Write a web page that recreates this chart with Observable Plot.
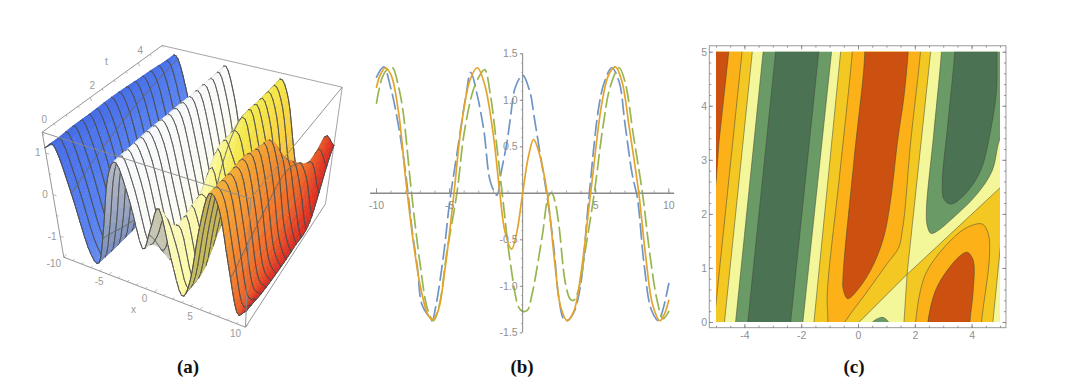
<!DOCTYPE html>
<html><head><meta charset="utf-8">
<style>
html,body{margin:0;padding:0;background:#fff;width:1071px;height:387px;overflow:hidden}
.panel{position:absolute}
.cap{position:absolute;top:355px;width:60px;margin-left:-30px;text-align:center;font:bold 19px "Liberation Serif",serif;color:#111;line-height:24px}
</style>
<script src="https://cdn.jsdelivr.net/npm/d3@7"></script>
<script src="https://cdn.jsdelivr.net/npm/@observablehq/plot@0.6"></script>
</head><body>
<div id="a" class="panel" style="left:0;top:0"></div>
<div id="b" class="panel" style="left:350px;top:30px"></div>
<div id="c" class="panel" style="left:690px;top:30px"></div>
<div class="cap" style="left:188px">(a)</div>
<div class="cap" style="left:522px">(b)</div>
<div class="cap" style="left:854px">(c)</div>
<script>
const labelFont = "'Liberation Sans',sans-serif";

// ---------- (a) surface values: z at x for each t
const surfX = [-10,-9,-8,-7,-6,-5,-4,-3,-2,-1,0,1,2,3,4,5,6,7,8,9,10];
const surfT = [0,1,2,3,4,5];
const zT0 = [1.13,1.23,.20,-1.02,-1.30,-.38,.88,1.33,.54,-.55,0,.55,-.54,-1.33,-.88,.38,1.30,1.02,-.20,-1.23,-1.13];
const zT1 = [.96,1.32,.46,-.82,-1.35,-.63,.66,1.35,.80,-.49,-1.28,-.72,0,-.97,-1.03,.12,1.20,1.17,.07,-1.09,-1.26];
const zT2 = [.76,1.35,.70,-.59,-1.34,-.86,.41,1.31,.99,-.23,-1.24,-1.11,.04,.88,0,-.12,1.01,1.28,.34,-.92,-1.33];
const zT3 = [.52,1.33,.92,-.34,-1.28,-1.05,.15,1.21,1.16,.04,-1.11,-1.24,-.23,.99,1.26,.32,0,1.02,.57,-.70,-1.35];
const zT4 = [.26,1.26,1.09,-.07,-1.17,-1.20,-.12,1.07,1.27,.31,-.94,-1.32,-.49,.80,1.35,.66,-.61,-1.03,0,-.35,-1.27];
const zT5 = [0,1.13,1.23,.20,-1.02,-1.30,-.38,.88,1.34,.56,-.73,-1.35,-.73,.56,1.34,.88,-.38,-1.29,-.98,.15,0];
const surfZ = [zT0,zT1,zT2,zT3,zT4,zT5];
const xMeshLines = [-8,-5.25,-0.25,3.5,8.25];
const colorStopsX = [-10,-8,-6,-4.5,-3,-1,1,3,4.2,5.5,6.4,7.5,8.8,9.6,10];
const colorStopsC = ["#3d62de","#4f78ee","#6a90f0","#c4d3f5","#fafbfe","#fbfbf8","#fbf9c6","#fdfba6","#f6ea4c","#f8d040","#f7b23c","#f49a32","#ee6a2a","#e23a24","#d92a22"];
// view-box corners in page pixels: [x=-10|10][t=0|5][z=-1.5|1.5]
const boxCorner = {
  "000":[63.3,256.7],"001":[41.7,131.7],"100":[245,326.7],"101":[250,198.3],
  "110":[325,203.3],"111":[341.7,86.7],"010":[173.3,156.7],"011":[161.7,45]};
const xTicksA=[-10,-9,-8,-7,-6,-5,-4,-3,-2,-1,0,1,2,3,4,5,6,7,8,9,10];
const tTicksA=[0,.5,1,1.5,2,2.5,3,3.5,4,4.5,5];
const zTicksA=[-1.5,-1,-.5,0,.5,1,1.5];
const xLabelsA=[-10,-5,0,5,10], tLabelsA=[0,2,4], zLabelsA=[1,0,-1];

function proj(x,t,z){
  let u=(x+10)/20;const v=t/5,w=(z+1.5)/3;
  u=u/(1+.22*v*(1-u)); // foreshortening of the far side of the box
  const lerp=(a,b,k)=>[a[0]+(b[0]-a[0])*k,a[1]+(b[1]-a[1])*k];
  const c=boxCorner;
  const b0=lerp(lerp(c["000"],c["100"],u),lerp(c["010"],c["110"],u),v);
  const b1=lerp(lerp(c["001"],c["101"],u),lerp(c["011"],c["111"],u),v);
  return lerp(b0,b1,w);
}
const cr=(a,b,c,d,u)=>.5*((2*b)+(-a+c)*u+(2*a-5*b+4*c-d)*u*u+(-a+3*b-3*c+d)*u*u*u);
function zAt(x,t){
  const fx=Math.min((x+10),19.9999),ix=Math.floor(fx),ux=fx-ix;
  const ft=Math.min(t,4.9999),it=Math.floor(ft),ut=ft-it;
  const cl=(i,n)=>Math.max(0,Math.min(n,i));
  const row=r=>{const R=surfZ[cl(r,5)];return cr(R[cl(ix-1,20)],R[ix],R[ix+1],R[cl(ix+2,20)],ux);};
  return cr(row(it-1),row(it),row(it+1),row(it+2),ut);
}
const baseColor=d3.scaleLinear().domain(colorStopsX).range(colorStopsC).interpolate(d3.interpolateRgb);
function quadColor(x,fx,ft){
  const c=d3.rgb(baseColor(x));
  const facing=-8800*fx+3175*ft+2355;
  if(facing<0) return d3.interpolateRgb(c,"#7d7d78")(.42); // underside
  const k=Math.min(1,facing/4000);
  return d3.interpolateRgb(d3.rgb(c.r*.93,c.g*.93,c.b*.93),c)(k);
}
const surfacePts=[];let sid=0;
(function(){
  const dx=.25,nt=48,dt=5/nt,nx=80;
  const push=(pts,fill,stroke,w)=>{const id=sid++;for(const p of pts){const q=proj(p[0],p[1],p[2]);surfacePts.push({id,x:q[0],y:q[1],fill,stroke,w});}};
  const Z=[];for(let r=0;r<=nt;r++){Z[r]=[];for(let i=0;i<=nx;i++)Z[r][i]=zAt(-10+i*dx,r*dt);}
  const line="#4a4a4a";
  for(let r=nt-1;r>=0;r--){
    for(let i=0;i<nx;i++){
      const x0=-10+i*dx,x1=x0+dx,t0=r*dt,t1=t0+dt;
      const a=Z[r][i],b=Z[r][i+1],c=Z[r+1][i+1],d=Z[r+1][i];
      const fx=((b-a)+(c-d))/(2*dx),ft=((d-a)+(c-b))/(2*dt);
      const col=d3.color(quadColor(x0+dx/2,fx,ft)).formatHex();
      push([[x0,t0,a],[x1,t0,b],[x1,t1,c],[x0,t1,d]],col,col,.6);
      if((r+1)%3===0 && r+1<nt) push([[x0,t1,d],[x1,t1,c]],line,line,.7);
      if(r+1===nt) push([[x0,t1,d],[x1,t1,c]],line,line,.8);
      if(xMeshLines.includes(x0)) push([[x0,t0,a],[x0,t1,d]],"#666666","#666666",.6);
      if(i===nx-1) push([[x1,t0,b],[x1,t1,c]],line,line,.8);
      if(r===0) push([[x0,t0,a],[x1,t0,b]],line,line,.8);
    }
  }
})();
const edge=(a,b)=>({x1:boxCorner[a][0],y1:boxCorner[a][1],x2:boxCorner[b][0],y2:boxCorner[b][1]});
const backEdges=[edge("011","111"),edge("111","110")];
const frontEdges=[edge("000","001"),edge("001","011"),edge("001","101"),edge("101","111"),edge("101","100"),edge("000","100"),edge("100","110")];
const tick=(p,dx,dy)=>({x1:p[0],y1:p[1],x2:p[0]+dx,y2:p[1]+dy});
const tickLinks=[
  ...xTicksA.map(v=>tick(proj(v,0,-1.5),v%5===0?2.6:1.5,v%5===0?-3:-1.8)),
  ...tTicksA.map(v=>tick(proj(-10,v,1.5),v%2===0?1.5:1,v%2===0?3.5:2)),
  ...zTicksA.map(v=>tick(proj(-10,0,v),v%1===0?3.5:2,v%1===0?1:.6))];
const lab=(text,p)=>({text:String(text),x:p[0],y:p[1]});
const labelsA=xLabelsA.map(v=>lab(v,proj(v,0,-1.5)));
const labelsAt=tLabelsA.map(v=>lab(v,proj(-10,v,1.5)));
const labelsAz=zLabelsA.map(v=>lab(v,proj(-10,0,v)));
const txtA={fontFamily:labelFont,fontSize:10,fill:"#9a9a9a"};
document.getElementById("a").append(Plot.plot({
  width:360,height:345,margin:0,
  x:{type:"identity",axis:null},y:{type:"identity",axis:null},color:{type:"identity"},
  marks:[
    Plot.link(backEdges,{x1:"x1",y1:"y1",x2:"x2",y2:"y2",stroke:"#9a9a9a",strokeWidth:.9}),
    Plot.line(surfacePts,{x:"x",y:"y",z:"id",fill:"fill",stroke:"stroke",strokeWidth:"w",curve:"linear-closed"}),
    Plot.link(frontEdges,{x1:"x1",y1:"y1",x2:"x2",y2:"y2",stroke:"#8a8a8a",strokeWidth:.9}),
    Plot.link(tickLinks,{x1:"x1",y1:"y1",x2:"x2",y2:"y2",stroke:"#9a9a9a",strokeWidth:.7}),
    Plot.text(labelsA,{x:"x",y:"y",text:"text",dx:-10,dy:7,...txtA}),
    Plot.text(labelsAt,{x:"x",y:"y",text:"text",dx:2,dy:-12,...txtA}),
    Plot.text(labelsAz,{x:"x",y:"y",text:"text",dx:-8,dy:0,...txtA}),
    Plot.text([{text:"x",x:133,y:309},{text:"t",x:106,y:61}],{x:"x",y:"y",text:"text",...txtA})
  ]
}));

// ---------- (b) three profiles
const blueX=[-10,-9.5,-9.04,-8.8,-8.36,-8,-7.56,-7.2,-6.9,-6.4,-6.2,-5.96,-5.4,-5,-4.5,-3.9,-3.55,-3.1,-2.65,-2.2,-1.75,-1.5,-1.05,-.83,-.5,0,.53,.76,1.2,1.68,2.13,2.47,2.8,3.04,3.5,3.95,4.5,5.2,5.6,6.1,6.6,7,7.5,7.85,8.3,8.8,9.3,9.6,10];
const blueY=[1.25,1.36,1.14,.98,.6,.21,-.4,-.8,-1.19,-1.33,-1.37,-1.23,-.65,-.1,.42,1.03,1.3,1.05,.67,.12,-.02,.2,.57,.82,1.14,1.27,1.07,.85,.42,-.04,-.58,-1.12,-1.35,-1.37,-1.28,-1.0,-.1,.92,1.2,1.35,1.2,.75,.2,-.05,-.75,-1.25,-1.37,-1.25,-.97];
const greenX=[-10,-9.6,-9.2,-8.9,-8.5,-8.2,-7.6,-7,-6.5,-6.1,-5.7,-5.2,-4.5,-4,-3.4,-3,-2.6,-2.2,-1.8,-1.4,-.83,-.26,0,.31,.65,1.33,1.8,2,2.2,2.47,2.93,3.27,3.5,3.8,4.3,4.9,5.5,6,6.6,7,7.6,8.2,8.7,9.2,9.6,10];
const greenY=[.97,1.25,1.34,1.35,1.15,.9,0,-.78,-1.25,-1.37,-1.2,-.65,0,.65,1.1,1.25,1.33,1.05,.55,0,-.76,-1.23,-1.27,-1.26,-1.08,-.47,-.02,0,-.08,-.33,-.97,-1.14,-1.15,-1.05,-.6,0,.72,1.15,1.35,1.2,.6,0,-.65,-1.15,-1.35,-1.27];
const orangeX=[-10,-9.75,-9.4,-9,-8.5,-8,-7.5,-7,-6.5,-6.2,-5.8,-5.3,-4.7,-4.2,-3.6,-3.1,-2.6,-2,-1.56,-1.2,-.75,-.4,0,.4,.75,1.1,1.68,2.2,2.6,3.05,3.5,4,4.5,4.8,5.4,5.9,6.35,6.8,7.3,7.95,8.4,8.9,9.4,9.7,10];
const orangeY=[1.14,1.27,1.35,1.27,.88,.15,-.5,-1.0,-1.3,-1.36,-1.27,-.8,0,.72,1.22,1.35,1.17,.62,0,-.42,-.6,-.42,0,.4,.58,.45,0,-.75,-1.22,-1.37,-1.27,-.85,-.2,.2,.95,1.28,1.36,1.2,.7,0,-.65,-1.2,-1.37,-1.3,-1.15];
const xTicksB=d3.range(-10,11), xMajorB=[-10,-5,5,10];
const xLabelsB=["-10","-5","5","10"];
const yMinorB=d3.range(-15,16).map(v=>v/10);
const yMajorB=[-1.5,-1,-.5,.5,1,1.5];
const yLabelsB=["-1.5","-1.0","-0.5","0.5","1.0","1.5"];
const zip=(a,b)=>a.map((x,i)=>({x,y:b[i]}));
document.getElementById("b").append(Plot.plot({
  width:340,height:320,marginLeft:26,marginRight:21.7,marginTop:23.3,marginBottom:17.7,
  x:{domain:[-10,10],axis:null},y:{domain:[-1.5,1.5],axis:null},
  marks:[
    Plot.line(zip(blueX,blueY),{x:"x",y:"y",stroke:"#6f95c6",strokeWidth:1.7,strokeDasharray:"15,6",curve:"catmull-rom"}),
    Plot.line(zip(greenX,greenY),{x:"x",y:"y",stroke:"#97b650",strokeWidth:1.7,strokeDasharray:"15,6",curve:"catmull-rom"}),
    Plot.ruleY([0],{x1:-10.4,x2:10.4,stroke:"#8a8a8a",strokeWidth:1.4}),
    Plot.ruleX([0],{y1:-1.5,y2:1.5,stroke:"#777",strokeWidth:.9}),
    Plot.ruleX(xTicksB,{y1:0,y2:.025,stroke:"#888",strokeWidth:.7}),
    Plot.ruleX(xMajorB,{y1:0,y2:.05,stroke:"#888",strokeWidth:.8}),
    Plot.ruleY(yMinorB,{x1:0,x2:-.08,stroke:"#888",strokeWidth:.6}),
    Plot.ruleY(yMajorB,{x1:0,x2:-.16,stroke:"#777",strokeWidth:.8}),
    Plot.line(zip(orangeX,orangeY),{x:"x",y:"y",stroke:"#e4a42c",strokeWidth:1.7,curve:"catmull-rom"}),
    Plot.text(xMajorB,{x:d=>d,y:0,text:(d,i)=>xLabelsB[i],dy:12,fontFamily:labelFont,fontSize:10.5,fill:"#8f8f8f"}),
    Plot.text(yMajorB,{x:0,y:d=>d,text:(d,i)=>yLabelsB[i],dx:-5,textAnchor:"end",fontFamily:labelFont,fontSize:10.5,fill:"#8f8f8f"})
  ]
}));

// ---------- (c) contour regions in (x,t) units
const goldLeft=[[-5.5,5.5],[-3.69,5.5],[-3.74,5],[-4.72,0],[-4.77,-.5],[-5.5,-.5]];
const orangeLeft=[[-5.5,5.5],[-4.05,5.5],[-4.10,5],[-5,.44],[-5.5,-2]];
const redLeft=[[-5.5,5.5],[-4.52,5.5],[-4.57,5],[-4.74,4.17],[-4.92,3.30],[-5,2.69],[-5.5,0]];
const greenLeft=[[-3.31,5.5],[-.90,5.5],[-.95,5],[-1.96,0],[-2.01,-.5],[-4.38,-.5],[-4.33,0],[-3.36,5]];
const darkLeft=[[-2.87,5.5],[-1.35,5.5],[-1.40,5],[-2.39,0],[-2.44,-.5],[-3.95,-.5],[-3.90,0],[-2.92,5]];
const goldCentre=[[-.58,5.5],[2.59,5.5],[2.54,5],[1.71,.89],[.01,0],[-.95,-.5],[-1.62,-.5],[-1.57,0],[-.63,5]];
const goldRight=[[1.55,-.5],[1.60,0],[1.71,.89],[5,2.50],[5.5,2.75],[5.5,1.7],[5,1.42],[4.73,0],[4.68,-.5]];
const orangeCentre=[[-.17,5.5],[2.23,5.5],[2.18,5],[1.83,3.30],[1.62,2.0],[1.54,1.70],[1.42,1.39],[1.01,1.09],[.26,.54],[-.49,0],[-1.0,-.5],[-1.15,-.5],[-1.08,0],[-1.10,.53],[-.66,2.75],[-.22,5]];
const redCentre=[[.17,5.5],[1.80,5.5],[1.75,5],[1.60,4.17],[1.38,3.37],[1.13,2.26],[.89,1.58],[.48,1.02],[-.05,.59],[-.38,.44],[-.54,.62],[-.54,.90],[-.16,3.0],[.22,5]];
const greenRight=[[2.97,5.5],[5.5,5.5],[5.5,3.8],[5,3.43],[4.71,2.81],[4.18,2.38],[3.36,1.95],[2.71,1.67],[2.54,1.65],[2.42,1.79],[2.39,2.07],[2.65,3.5],[2.92,5]];
const darkRight=[[3.44,5.5],[4.93,5.5],[4.88,5],[4.86,4.29],[4.65,3.55],[4.30,2.81],[3.71,2.35],[3.24,2.19],[3.0,2.29],[2.95,2.56],[3.17,3.8],[3.39,5]];
const orangeRight=[[1.96,-.5],[2.01,0],[2.18,.59],[2.42,.96],[3.12,1.45],[3.83,1.76],[4.36,1.82],[4.57,1.64],[4.61,1.21],[4.33,0],[4.28,-.5]];
const redRight=[[2.39,-.5],[2.44,0],[2.71,.59],[3.12,.96],[3.59,1.24],[3.83,1.30],[4.04,1.15],[4.04,.59],[3.92,0],[3.87,-.5]];
const greenSmall=[[.4,-.2],[.48,0],[.77,.09],[.89,.09],[1.07,0],[1.15,-.2]];
const paleBase=[[-5.5,5.5],[5.5,5.5],[5.5,-.5],[-5.5,-.5]];
const cRed="#cc5010",cOrange="#fdb118",cGold="#f3c822",cPale="#f4f799",cGreen="#6a9a66",cDark="#4b7253";
const xLabelsC=[-4,-2,0,2,4], yLabelsC=[0,1,2,3,4,5];
const xMinorC=d3.range(-5,5.01,.5), yMinorC=d3.range(0,5.01,.2);
const frameC={l:-5.236,r:5.21,t:5.11,b:-.105};
const region=(pts,fill,curve)=>Plot.line(pts,{x:d=>d[0],y:d=>d[1],fill,stroke:"#44493a",strokeOpacity:.75,strokeWidth:.7,curve,clip:true});
const L="linear-closed",S="catmull-rom-closed";
const ticksC=(xs,ys,mx,my)=>[
  Plot.ruleX(xs,{y1:frameC.b,y2:frameC.b+my,stroke:"#7a7a7a",strokeWidth:.8}),
  Plot.ruleX(xs,{y1:frameC.t,y2:frameC.t-my,stroke:"#7a7a7a",strokeWidth:.8}),
  Plot.ruleY(ys,{x1:frameC.l,x2:frameC.l+mx,stroke:"#7a7a7a",strokeWidth:.8}),
  Plot.ruleY(ys,{x1:frameC.r,x2:frameC.r-mx,stroke:"#7a7a7a",strokeWidth:.8})];
document.getElementById("c").append(Plot.plot({
  width:340,height:320,marginLeft:26,marginRight:30,marginTop:21.7,marginBottom:28,
  x:{domain:[-5,5],axis:null},y:{domain:[0,5],axis:null},
  marks:[
    Plot.line(paleBase,{x:d=>d[0],y:d=>d[1],fill:cPale,stroke:"none",curve:L,clip:true}),
    region(goldLeft,cGold,L),region(orangeLeft,cOrange,L),region(redLeft,cRed,L),
    region(greenLeft,cGreen,L),region(darkLeft,cDark,L),
    region(goldCentre,cGold,L),region(orangeCentre,cOrange,S),region(redCentre,cRed,S),
    region(greenSmall,cGreen,S),
    region(greenRight,cGreen,S),region(darkRight,cDark,S),
    region(goldRight,cGold,L),region(orangeRight,cOrange,S),region(redRight,cRed,S),
    Plot.rect([frameC],{x1:"l",x2:"r",y1:"b",y2:"t",fill:"none",stroke:"#9a9a9a",strokeWidth:1}),
    ...ticksC(xMinorC,yMinorC,.07,.035),
    ...ticksC(xLabelsC,yLabelsC,.13,.07),
    Plot.text(xLabelsC,{x:d=>d,y:-.24,text:d=>String(d),fontFamily:labelFont,fontSize:10.5,fill:"#8f8f8f"}),
    Plot.text(yLabelsC,{x:-5.33,y:d=>d,text:d=>String(d),textAnchor:"end",fontFamily:labelFont,fontSize:10.5,fill:"#8f8f8f"})
  ]
}));
</script>
</body></html>
